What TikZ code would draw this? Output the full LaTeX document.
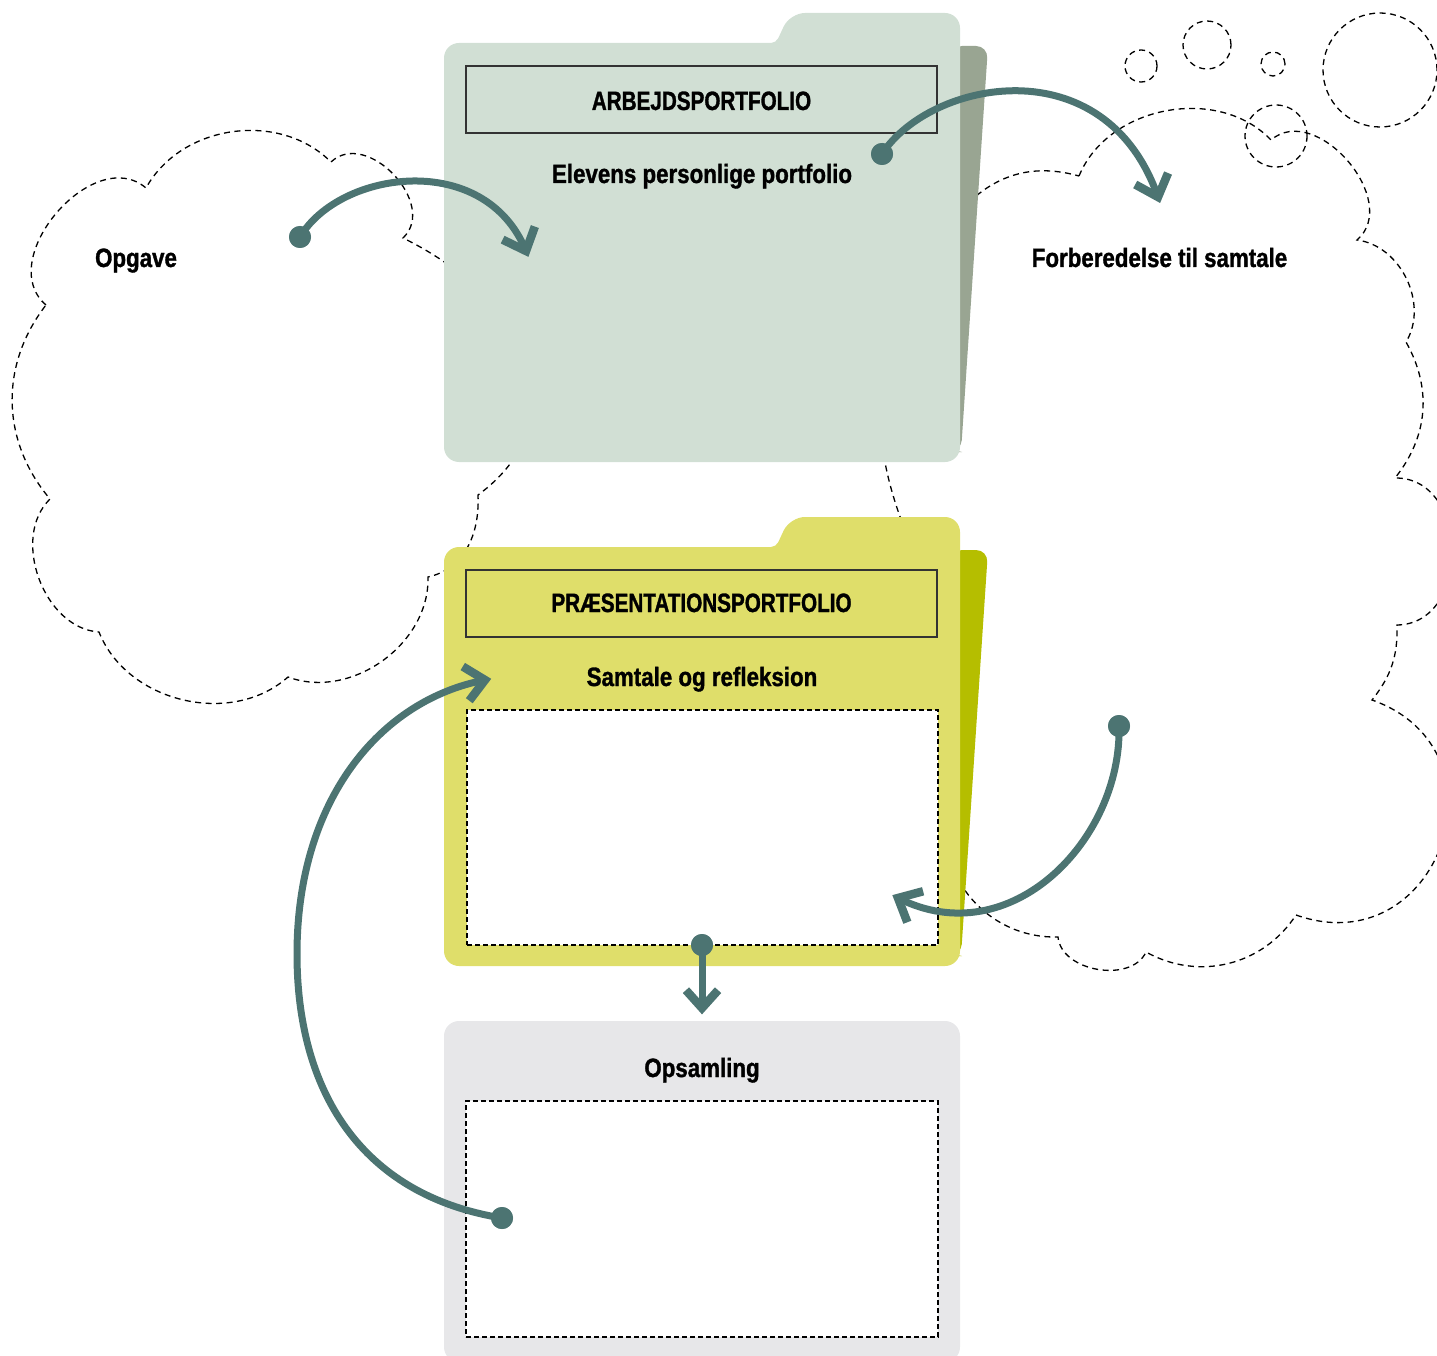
\documentclass[tikz,border=0pt]{standalone}
\usepackage{fontspec}
\usetikzlibrary{calc}
\newfontfamily\cnd[FakeStretch=0.842, BoldFeatures={FakeBold=1.2}]{Liberation Sans}
\newfontfamily\cndc[FakeStretch=0.78, BoldFeatures={FakeBold=1.2}]{Liberation Sans}
\definecolor{arrowc}{RGB}{76,116,114}
\definecolor{topfold}{RGB}{209,223,212}
\definecolor{topback}{RGB}{153,165,146}
\definecolor{yelfold}{RGB}{223,222,106}
\definecolor{yelback}{RGB}{181,190,0}
\definecolor{greybox}{RGB}{231,231,233}
\begin{document}
\begin{tikzpicture}[x=1pt,y=-1pt,
  cloudline/.style={draw=black, line width=1.3pt, dash pattern=on 6pt off 4.5pt},
  bubble/.style={cloudline, circle, inner sep=0pt},
  titlebox/.style={draw=black!80, line width=1.2pt, inner sep=0pt},
  dashbox/.style={draw=black, fill=white, line width=1.3pt, dash pattern=on 5pt off 3pt, inner sep=0pt},
  lbl/.style={font=\cnd\bfseries\fontsize{26.5}{30}\selectfont, inner sep=0pt, anchor=base},
  caps/.style={font=\cndc\bfseries\fontsize{26.5}{30}\selectfont, inner sep=0pt, anchor=base},
  conn/.style={draw=arrowc, line width=7pt},
  chev/.style={draw=arrowc, line width=8.5pt, line join=miter, line cap=butt},
  dotn/.style={circle, fill=arrowc, minimum size=22pt, inner sep=0pt},
]
\useasboundingbox (0,0) rectangle (1437,1356);

% ---- clouds ----
\draw[cloudline]
 (46,305) to[bend left=90, looseness=1.15] (146,188)
 to[bend left=53] (331,162)
 to[bend left=90, looseness=1.2] (403,238)
 .. controls (530,300) and (580,420) .. (478,495)
 .. controls (480,540) and (460,570) .. (428,577)
 to[bend left=56] (288,677)
 to[bend left=55] (99,632)
 to[bend left=66] (50,499)
 to[bend left=39] (46,305);

\draw[cloudline]
 (1079,176) to[bend left=57] (1271,140)
 to[bend left=90, looseness=1.15] (1357,240)
 to[bend left=57] (1406,342)
 to[bend left=34] (1395,478)
 to[bend left=90, looseness=1.3] (1397,625)
 to[bend left=20] (1372,700)
 to[bend left=90, looseness=1.7] (1296,915)
 to[bend left=43] (1146,952)
 to[bend left=75] (1058,937)
 to[bend left=45] (945,830)
 to[bend left=30] (902,522)
 to[bend left=32] (966,205)
 to[bend left=30] (1079,176);

\node[bubble, minimum size=32pt] (b1) at (1141,66) {};
\node[bubble, minimum size=48pt] (b2) at (1207,45) {};
\node[bubble, minimum size=24pt] (b3) at (1273,64) {};
\node[bubble, minimum size=114pt] (b4) at (1380,70) {};
\node[bubble, minimum size=62pt] (b5) at (1276,136) {};

% ---- top folder ----
\fill[topback, rounded corners=12pt] (950,46) -- (988,46) -- (961,452) -- (950,452) -- cycle;
\fill[topfold, rounded corners=15pt] (444,462) -- (444,43) [rounded corners=5pt] -- (776,43) [rounded corners=15pt] -- (790,13) -- (960,13) -- (960,462) -- cycle;
\node[titlebox, minimum width=471pt, minimum height=67pt] (tb1) at (701.5,99.5) {};
\node[caps] (arb) at (701.5,110) {ARBEJDSPORTFOLIO};
\node[lbl] (elev) at (702,183) {Elevens personlige portfolio};

% ---- yellow folder ----
\fill[yelback, rounded corners=12pt] (950,550) -- (988,550) -- (961,956) -- (950,956) -- cycle;
\fill[yelfold, rounded corners=15pt] (444,966) -- (444,547) [rounded corners=5pt] -- (776,547) [rounded corners=15pt] -- (790,517) -- (960,517) -- (960,966) -- cycle;
\node[titlebox, minimum width=471pt, minimum height=67pt] (tb2) at (701.5,603.5) {};
\node[caps] (praes) at (701.5,612) {PRÆSENTATIONSPORTFOLIO};
\node[lbl] (samt) at (702,686) {Samtale og refleksion};
\node[dashbox, minimum width=471pt, minimum height=235pt] (db1) at (702.5,827.5) {};

% ---- grey box ----
\fill[greybox, rounded corners=15pt] (444,1362) -- (444,1021) -- (960,1021) -- (960,1362) -- cycle;
\node[lbl] (ops) at (702,1077) {Opsamling};
\node[dashbox, minimum width=472pt, minimum height=236pt] (db2) at (702,1219) {};

% ---- cloud labels ----
\node[lbl] (opg) at (136,267) {Opgave};
\node[lbl] (forb) at (1159.5,267) {Forberedelse til samtale};

% ---- connectors ----
\node[dotn] (d1) at (300,237) {};
\node[dotn] (d2) at (882,154) {};
\node[dotn] (d3) at (1119,726) {};
\node[dotn] (d4) at (502,1218) {};
\node[dotn] (d5) at (702,945) {};
\coordinate (t1) at (526,251);
\coordinate (t2) at (1158,197);
\coordinate (t3) at (898,898);
\coordinate (t4) at (485,680);
\coordinate (t5) at (702,1008);
\coordinate (c1) at (485,150);
\coordinate (c2) at (1105,45);
\coordinate (c3) at (1010,955);
\coordinate (c4) at (380,700);

\draw[conn] (d1.center) .. controls (340,170) and (c1) .. (t1);
\draw[conn] (d2.center) .. controls (930,80) and (c2) .. (t2);
\draw[conn] (d3.center) .. controls (1122,840) and (c3) .. (t3);
\draw[conn] (d4.center) .. controls (360,1195) and (297,1090) .. (297,954) .. controls (297,800) and (c4) .. (t4);
\draw[conn] (d5.center) -- (t5);

\draw[chev] ($(t1)!26pt!42:(c1)$) -- (t1) -- ($(t1)!26pt!-42:(c1)$);
\draw[chev] ($(t2)!26pt!42:(c2)$) -- (t2) -- ($(t2)!26pt!-42:(c2)$);
\draw[chev] ($(t3)!26pt!42:(c3)$) -- (t3) -- ($(t3)!26pt!-42:(c3)$);
\draw[chev] ($(t4)!26pt!42:(c4)$) -- (t4) -- ($(t4)!26pt!-42:(c4)$);
\draw[chev] ($(t5)!24pt!42:(d5)$) -- (t5) -- ($(t5)!24pt!-42:(d5)$);

\node[dotn] at (d1) {};
\node[dotn] at (d2) {};
\node[dotn] at (d3) {};
\node[dotn] at (d4) {};
\node[dotn] at (d5) {};
\end{tikzpicture}
\end{document}
